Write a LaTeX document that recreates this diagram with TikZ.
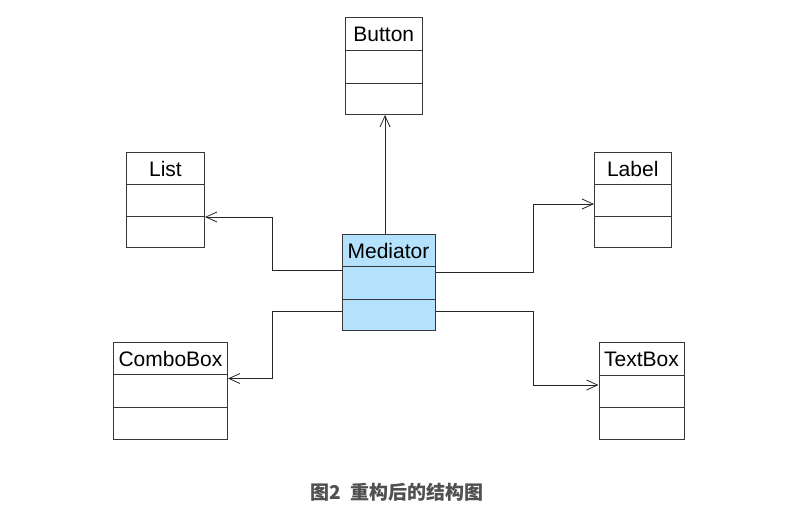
\documentclass[tikz,border=0pt]{standalone}
\usepackage{fontspec}
\setmainfont{Liberation Sans}
\newfontfamily\cjkfont{Noto Sans CJK SC}
\usetikzlibrary{arrows.meta,fit,calc}
\definecolor{medblue}{RGB}{180,226,252}
\definecolor{linegray}{RGB}{55,55,55}
\definecolor{capgray}{RGB}{80,80,80}
\tikzset{
  clsbox/.style={draw=linegray,line width=1pt,inner sep=0pt},
  clstitle/.style={font=\fontsize{21}{23}\selectfont,inner sep=0pt,text=black},
  divline/.style={draw=linegray,line width=1pt},
  assoc/.style={draw=black!85,line width=1pt,-{Straight Barb[length=11pt,width=10pt,line width=0.8pt]}},
}
\newcommand{\umlcls}[9]{%
  % #1 name, #2 left, #3 top, #4 right, #5 div1, #6 div2, #7 bottom, #8 fill, #9 title
  \node[clsbox,fill=#8,fit={(#2,#3) (#4,#7)}] (#1) {};
  \node[clstitle] (#1-t) at ({(#2+#4)/2},{(#3+#5)/2+0.5}) {#9};
  \draw[divline] (#2,#5) -- (#4,#5);
  \draw[divline] (#2,#6) -- (#4,#6);
}
\begin{document}
\begin{tikzpicture}[x=1pt,y=-1pt]
\useasboundingbox (0,0) rectangle (801,520);
\fill[white] (0,0) rectangle (801,520);
\umlcls{button}{345.5}{17.5}{422}{50}{83}{114.5}{white}{Button}
\umlcls{list}{126.5}{152.5}{204.5}{184}{216}{247.5}{white}{List}
\umlcls{label}{594.5}{152.5}{671}{184}{216}{247.5}{white}{Label}
\umlcls{med}{342}{234}{435}{266}{299}{330.5}{medblue}{Mediator}
\umlcls{combo}{113.5}{342.5}{227.5}{374.5}{407.5}{439.5}{white}{ComboBox}
\umlcls{textbox}{599}{342.5}{684}{375}{407.5}{439.5}{white}{TextBox}
% connectors
\draw[assoc] (med.north -| 385,0) -- (button.south -| 385,0);
\draw[assoc] (med.west |- 0,270) -- (272.5,270) |- (list.east |- 0,217);
\draw[assoc] (med.west |- 0,311) -- (272.5,311) |- (combo.east |- 0,378.5);
\draw[assoc] (med.east |- 0,272) -- (533.5,272) |- (label.west |- 0,204);
\draw[assoc] (med.east |- 0,311) -- (533.5,311) |- (textbox.west |- 0,385);
% caption
\node[font=\cjkfont\bfseries\fontsize{19}{21}\selectfont,text=capgray,inner sep=0pt] (cap) at (397,492) {图2\hspace{0.5em}重构后的结构图};
\end{tikzpicture}
\end{document}
